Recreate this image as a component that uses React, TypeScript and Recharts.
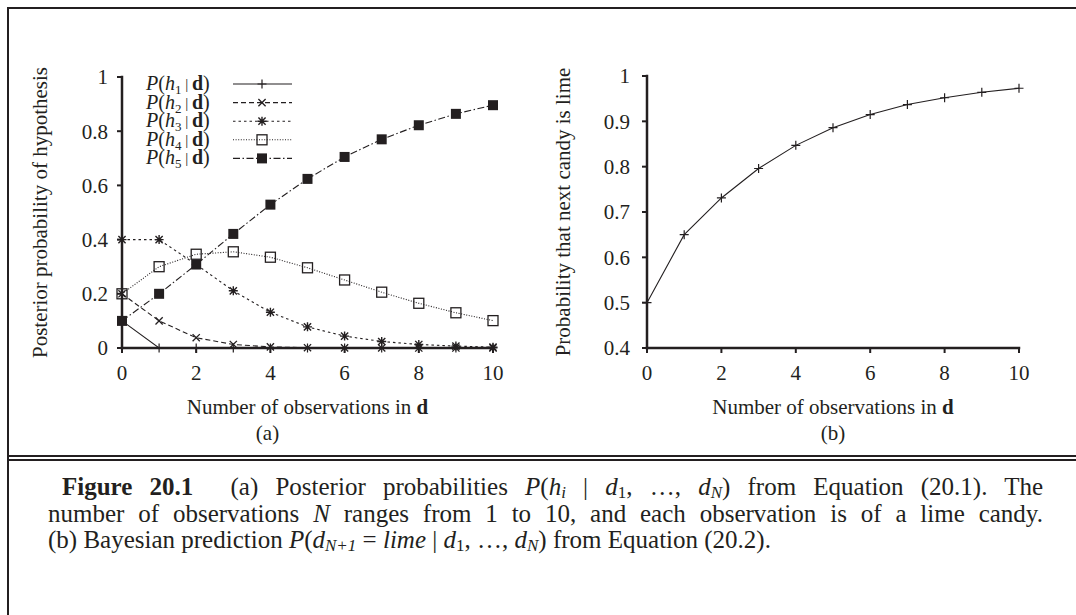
import React from "react";
import { LineChart, Line, XAxis, YAxis, Legend } from "recharts";

// number of lime candies observed so far
const observations = [0, 1, 2, 3, 4, 5, 6, 7, 8, 9, 10];

// posterior of each hypothesis
const pH1 = [0.1, 0, 0, 0, 0, 0, 0, 0, 0, 0, 0];
const pH2 = [0.2, 0.1, 0.038, 0.013, 0.004, 0.001, 0.0003, 0.0001, 0, 0, 0];
const pH3 = [0.4, 0.4, 0.308, 0.211, 0.132, 0.078, 0.044, 0.024, 0.013, 0.007, 0.003];
const pH4 = [0.2, 0.3, 0.346, 0.355, 0.335, 0.296, 0.251, 0.206, 0.165, 0.13, 0.101];
const pH5 = [0.1, 0.2, 0.308, 0.421, 0.529, 0.624, 0.705, 0.77, 0.822, 0.864, 0.896];

// panel (b): probability that the next candy is lime
const pNextLime = [0.5, 0.65, 0.731, 0.796, 0.847, 0.886, 0.915, 0.937, 0.952, 0.964, 0.973];

const xTicks = [0, 2, 4, 6, 8, 10];
const posteriorTicks = [0, 0.2, 0.4, 0.6, 0.8, 1];
const predictionTicks = [0.4, 0.5, 0.6, 0.7, 0.8, 0.9, 1];

const posteriorData = observations.map((n, i) => ({
  n,
  h1: pH1[i],
  h2: pH2[i],
  h3: pH3[i],
  h4: pH4[i],
  h5: pH5[i],
}));
const predictionData = observations.map((n, i) => ({ n, lime: pNextLime[i] }));

const INK = "#231f20";
const FONT = '"Liberation Serif", "Times New Roman", serif';

type MarkerKind = "plus" | "cross" | "star" | "box" | "filled";

const hypotheses: { key: string; sub: string; dash?: string; marker: MarkerKind }[] = [
  { key: "h1", sub: "1", marker: "plus" },
  { key: "h2", sub: "2", dash: "5 3", marker: "cross" },
  { key: "h3", sub: "3", dash: "2.5 3", marker: "star" },
  { key: "h4", sub: "4", dash: "1 1.6", marker: "box" },
  { key: "h5", sub: "5", dash: "7 2.5 1.5 2.5", marker: "filled" },
];

function Marker({ kind, cx, cy }: { kind: MarkerKind; cx: number; cy: number }) {
  const s = 4.5;
  const c = 3.6;
  const plus = `M${cx - s},${cy}H${cx + s}M${cx},${cy - s}V${cy + s}`;
  const cross = `M${cx - c},${cy - c}L${cx + c},${cy + c}M${cx - c},${cy + c}L${cx + c},${cy - c}`;
  if (kind === "plus") return <path d={plus} stroke={INK} strokeWidth={1.2} fill="none" />;
  if (kind === "cross") return <path d={cross} stroke={INK} strokeWidth={1.3} fill="none" />;
  if (kind === "star")
    return <path d={plus + cross} stroke={INK} strokeWidth={1.4} fill="none" />;
  if (kind === "box")
    return <rect x={cx - 5} y={cy - 5} width={10} height={10} fill="none" stroke={INK} strokeWidth={1.3} />;
  return <rect x={cx - 5} y={cy - 5} width={10} height={10} fill={INK} />;
}

const dotFor = (kind: MarkerKind) => (props: any) =>
  (
    <g key={`${kind}-${props.index}`}>
      <Marker kind={kind} cx={props.cx} cy={props.cy} />
    </g>
  );

function PosteriorLegend() {
  return (
    <svg width={160} height={100} style={{ display: "block", overflow: "visible" }}>
      {hypotheses.map((h, i) => {
        const y = 10 + i * 18.6;
        return (
          <g key={h.key}>
            <text x={0} y={y + 6} fontFamily={FONT} fontSize={20} fill={INK}>
              <tspan fontStyle="italic">P</tspan>
              <tspan>(</tspan>
              <tspan fontStyle="italic">h</tspan>
              <tspan fontSize={13} dy={4}>{h.sub}</tspan>
              <tspan dy={-5} fontSize={15}>{"  |  "}</tspan>
              <tspan dy={1} fontWeight="bold">d</tspan>
              <tspan>)</tspan>
            </text>
            <line x1={87} x2={146} y1={y} y2={y} stroke={INK} strokeWidth={1.1} strokeDasharray={h.dash} />
            <Marker kind={h.marker} cx={116} cy={y} />
          </g>
        );
      })}
    </svg>
  );
}

const tickStyle = { fontSize: 21, fontFamily: FONT, fill: INK };
const axisLine = { stroke: INK, strokeWidth: 2.5, strokeLinecap: "square" as const };
const tickLine = { stroke: INK, strokeWidth: 2 };

const yTitle = (text: string, gap: number) => (props: any) => {
  const vb = props.viewBox;
  const x = vb.x + vb.width - gap;
  const y = vb.y + vb.height / 2;
  return (
    <text
      x={x}
      y={y}
      transform={`rotate(-90 ${x} ${y})`}
      textAnchor="middle"
      fontFamily={FONT}
      fontSize={21}
      fill={INK}
    >
      {text}
    </text>
  );
};

const xTitle = (panel: string, panelShift: number) => (props: any) => {
  const vb = props.viewBox;
  const cx = vb.x + vb.width / 2;
  return (
    <g>
      <text x={cx} y={vb.y + 66} textAnchor="middle" fontFamily={FONT} fontSize={21} fill={INK}>
        Number of observations in <tspan fontWeight="bold">d</tspan>
      </text>
      <text x={cx + panelShift} y={vb.y + 92} textAnchor="middle" fontFamily={FONT} fontSize={21} fill={INK}>
        {panel}
      </text>
    </g>
  );
};

const sub = { fontSize: "0.68em", verticalAlign: "-0.15em", lineHeight: 0 };
const it = { fontStyle: "italic" as const };

export default function App() {
  return (
    <div style={{ position: "relative", width: 1076, height: 615, overflow: "hidden", background: "#fff" }}>
      <style>{`body{margin:0;overflow:hidden;background:#fff}`}</style>

      {/* figure frame */}
      <div style={{ position: "absolute", left: 7, top: 7, width: 1100, height: 700, borderTop: `2px solid ${INK}`, borderLeft: `2px solid ${INK}` }} />
      <div style={{ position: "absolute", left: 7, top: 455, width: 1100, height: 2, background: INK }} />
      <div style={{ position: "absolute", left: 7, top: 459, width: 1100, height: 2, background: INK }} />

      <div style={{ position: "absolute", left: 0, top: 0 }}>
        <LineChart width={540} height={460} data={posteriorData} margin={{ top: 77, right: 47, bottom: 82, left: 62 }}>
          <XAxis
            dataKey="n"
            type="number"
            domain={[0, 10]}
            ticks={xTicks}
            interval={0}
            height={30}
            tick={tickStyle}
            tickSize={5}
            tickMargin={12}
            axisLine={axisLine}
            tickLine={tickLine}
            label={xTitle("(a)", -40)}
          />
          <YAxis
            type="number"
            domain={[0, 1]}
            ticks={posteriorTicks}
            interval={0}
            width={60}
            tick={tickStyle}
            tickSize={5}
            tickMargin={9}
            axisLine={axisLine}
            tickLine={tickLine}
            label={yTitle("Posterior probability of hypothesis", 75)}
          />
          {hypotheses.map((h) => (
            <Line
              key={h.key}
              dataKey={h.key}
              type="linear"
              stroke={INK}
              strokeWidth={1.1}
              strokeDasharray={h.dash}
              dot={dotFor(h.marker)}
              activeDot={false}
              isAnimationActive={false}
            />
          ))}
          <Legend
            layout="vertical"
            align="center"
            verticalAlign="middle"
            wrapperStyle={{ left: 146, top: 74, width: "auto" }}
            content={() => <PosteriorLegend />}
          />
        </LineChart>
      </div>

      <div style={{ position: "absolute", left: 540, top: 0 }}>
        <LineChart width={536} height={460} data={predictionData} margin={{ top: 76, right: 57, bottom: 82, left: 47 }}>
          <XAxis
            dataKey="n"
            type="number"
            domain={[0, 10]}
            ticks={xTicks}
            interval={0}
            height={30}
            tick={tickStyle}
            tickSize={5}
            tickMargin={12}
            axisLine={axisLine}
            tickLine={tickLine}
            label={xTitle("(b)", 0)}
          />
          <YAxis
            type="number"
            domain={[0.4, 1]}
            ticks={predictionTicks}
            interval={0}
            width={60}
            tick={tickStyle}
            tickSize={5}
            tickMargin={12}
            axisLine={axisLine}
            tickLine={tickLine}
            label={yTitle("Probability that next candy is lime", 77)}
          />
          <Line
            dataKey="lime"
            type="linear"
            stroke={INK}
            strokeWidth={1.1}
            dot={dotFor("plus")}
            activeDot={false}
            isAnimationActive={false}
          />
        </LineChart>
      </div>

      {/* caption */}
      <div style={{ position: "absolute", left: 48, top: 474, width: 995, fontFamily: FONT, fontSize: 25, lineHeight: "26.5px", color: INK }}>
        <div style={{ textAlign: "justify", textAlignLast: "justify", textIndent: 14 }}>
          <b>Figure 20.1</b>
          <span style={{ display: "inline-block", width: 20 }} /> (a) Posterior probabilities{" "}
          <span style={it}>P</span>(<span style={it}>h</span>
          <sub style={{ ...sub, ...it }}>i</sub> | <span style={it}>d</span>
          <sub style={sub}>1</sub>, …, <span style={it}>d</span>
          <sub style={{ ...sub, ...it }}>N</sub>) from Equation (20.1). The
        </div>
        <div style={{ textAlign: "justify", textAlignLast: "justify" }}>
          number of observations <span style={it}>N</span> ranges from 1 to 10, and each observation is of a lime candy.
        </div>
        <div>
          (b) Bayesian prediction <span style={it}>P</span>(<span style={it}>d</span>
          <sub style={{ ...sub, ...it }}>N+1</sub> = <span style={it}>lime</span> | <span style={it}>d</span>
          <sub style={sub}>1</sub>, …, <span style={it}>d</span>
          <sub style={{ ...sub, ...it }}>N</sub>) from Equation (20.2).
        </div>
      </div>
    </div>
  );
}
